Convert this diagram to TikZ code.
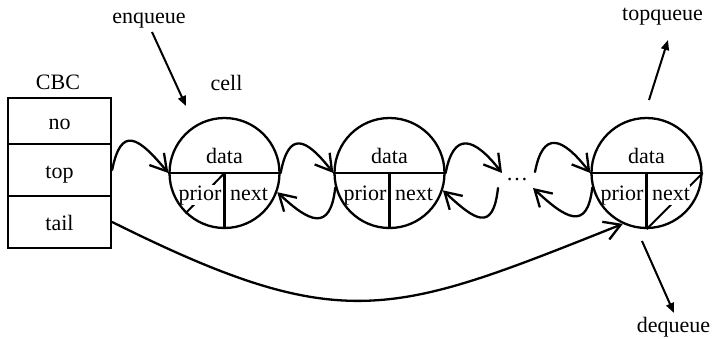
\documentclass[tikz,border=0pt]{standalone}
\usepackage{fontspec}
\setmainfont{Liberation Serif}
\usetikzlibrary{arrows.meta,calc}
\pgfdeclarelayer{under}
\pgfdeclarelayer{labels}
\pgfsetlayers{under,labels,main}

\begin{document}
\begin{tikzpicture}[x=1pt,y=-1pt,
  every node/.style={font=\fontsize{22}{26}\selectfont},
  lw/.style={line width=2.3pt},
  field/.style={draw, lw, minimum width=103pt, inner sep=0pt,
                text height=20pt, text depth=4pt},
  cellbox/.style={draw, lw, circle, minimum size=110pt, inner sep=0pt},
  slot/.style={fill=white, inner sep=0pt, text height=15pt, text depth=5pt},
  link/.style={lw, line cap=round, -{Straight Barb[length=16pt,width=19pt]}},
  ptr/.style={line width=2pt, -{Triangle[length=10pt,width=8pt]}},
  nil/.style={line width=2pt},
]
\useasboundingbox (0,0) rectangle (712,338);
\begin{pgfonlayer}{under}
  \fill[white] (0,0) rectangle (712,338);
\end{pgfonlayer}

% control block with its three fields
\node[anchor=base] (cbc) at (58,89) {CBC};
\node[field, minimum height=46.6pt] (no)   at (59.5,121) {no};
\node[field, minimum height=51.4pt] (top)  at (59.5,170) {top};
\node[field, minimum height=52.6pt] (tail) at (59.5,222) {tail};

% queue cells
\node[anchor=base] (celllbl) at (226.5,90) {cell};
\node[cellbox] (c1) at (224.5,173) {};
\node[cellbox] (c2) at (389.5,173) {};
\node[cellbox] (c3) at (646.5,173) {};
\foreach \c in {c1,c2,c3} {
  \draw[lw] (\c.west) -- (\c.east);
  \draw[lw] (\c.center) -- (\c.south);
  \node[anchor=base] (\c-data) at ($(\c.center)+(0,-10)$) {data};
  \begin{pgfonlayer}{labels}
    \node[slot, anchor=base] (\c-prior) at ($(\c.center)+(-24.5,27)$) {prior};
    \node[slot, anchor=base] (\c-next)  at ($(\c.center)+(24.5,27)$) {next};
  \end{pgfonlayer}
}

% null pointers: first cell has no prior, last cell has no next
\begin{pgfonlayer}{under}
  \draw[nil] (c1.center) -- (c1.226);
  \draw[nil] (c3.east) -- (c3.south);
\end{pgfonlayer}

% elided middle of the queue
\node[anchor=base] (dots) at (517,180) {\dots};
\coordinate (dl1) at (502,173);
\coordinate (dl2) at (498,188);
\coordinate (dr1) at (535,172);
\coordinate (dr2) at (533,188);

% next / prior links
\draw[link] (top.east) .. controls +(9,-45) and +(-30,-36) .. (c1.west);
\draw[link] (c1.east) .. controls +(8,-42) and +(-28,-36) .. (c2.west);
\draw[link] (c2.195) .. controls +(-5,45) and +(32,30) .. (c1.340);
\draw[link] (c2.east) .. controls +(8,-42) and +(-28,-36) .. (dl1);
\draw[link] (dl2) .. controls +(-5,45) and +(32,30) .. (c2.342);
\draw[link] (dr1) .. controls +(8,-42) and +(-28,-36) .. (c3.west);
\draw[link] (c3.195) .. controls +(-5,45) and +(32,30) .. (dr2);
\draw[link] (tail.east) .. controls +(231,115) and +(-231,92) .. (c3.245);

% queue operations
\node[anchor=base] (enq)  at (149,23) {enqueue};
\node[anchor=base] (topq) at (662.5,20) {topqueue};
\node[anchor=base] (deq)  at (673.5,332) {dequeue};
\coordinate (enqA) at (152,32);  \coordinate (enqB) at (186,106);
\coordinate (topA) at (649,100); \coordinate (topB) at (668,40);
\coordinate (deqA) at (642,241); \coordinate (deqB) at (674,313);
\draw[ptr] (enqA) -- (enqB);
\draw[ptr] (topA) -- (topB);
\draw[ptr] (deqA) -- (deqB);
\end{tikzpicture}
\end{document}
